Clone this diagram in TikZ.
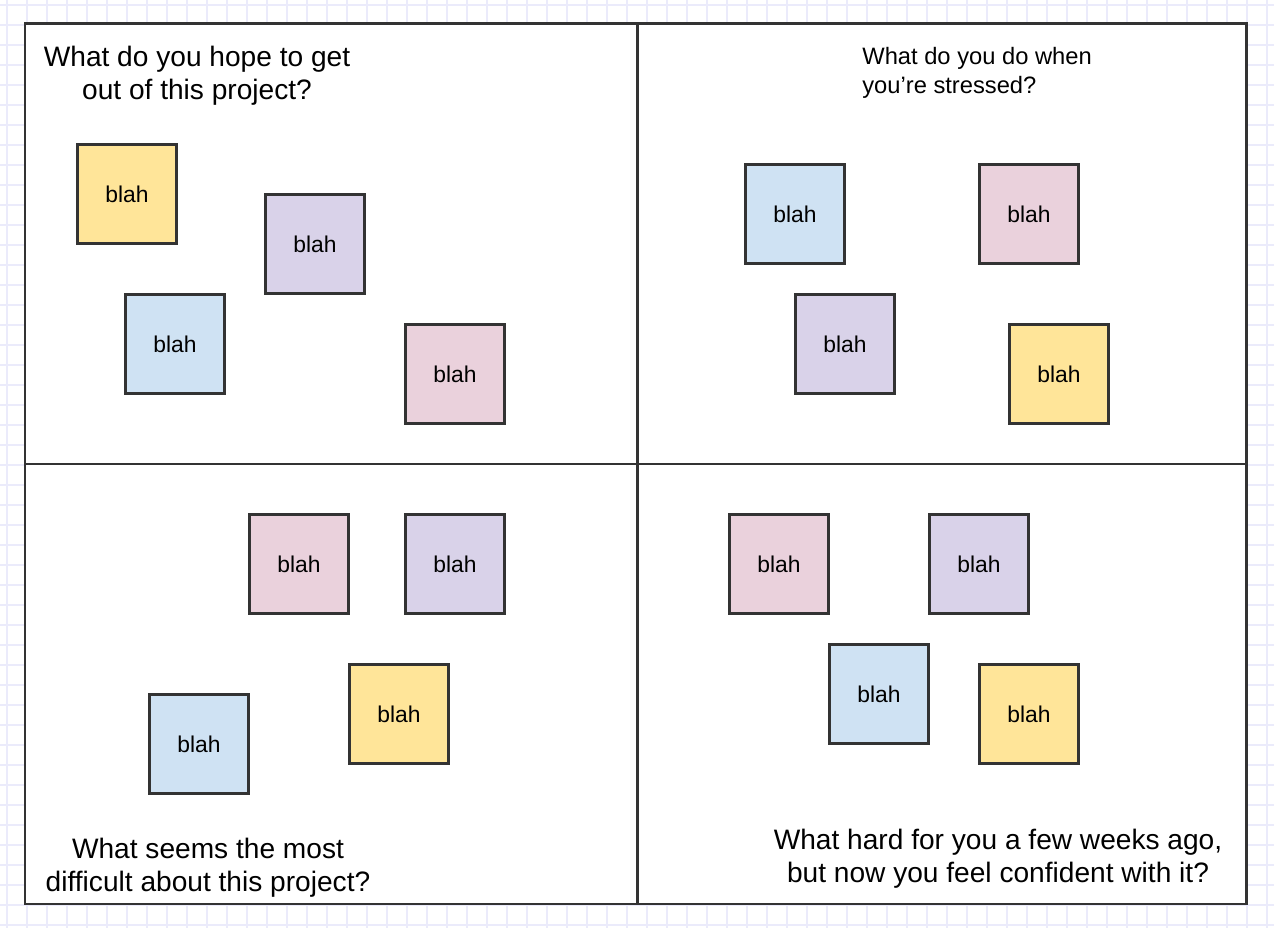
\documentclass[tikz,border=0pt]{standalone}
\usepackage{fontspec}
\setmainfont{Liberation Sans}
\usepackage{xcolor}
\usepackage{tikz}
\usetikzlibrary{positioning}

\definecolor{gridline}{HTML}{EBEBFB}
\definecolor{frameline}{HTML}{333333}
\definecolor{noteyellow}{HTML}{FFE599}
\definecolor{notepurple}{HTML}{D9D2E9}
\definecolor{noteblue}{HTML}{CFE2F3}
\definecolor{notepink}{HTML}{EAD1DC}

\tikzset{
	note/.style={draw=frameline,line width=1.7pt,minimum size=1.98cm,inner sep=0pt,font=\fontsize{13}{15}\selectfont},
	question/.style={align=center,inner sep=0pt,font=\fontsize{16}{18.6}\selectfont},
	smallquestion/.style={align=left,inner sep=0pt,font=\fontsize{13.5}{16.8}\selectfont}
}

\begin{document}
\begin{tikzpicture}[x=0.02cm,y=-0.02cm]
		\useasboundingbox (0,0) rectangle (1274,928);
		% background grid
		\foreach \gx in {7,27,...,1267} \draw[gridline,line width=0.6pt] (\gx,0) -- (\gx,928);
		\foreach \gy in {5,25,...,925} \draw[gridline,line width=0.6pt] (0,\gy) -- (1274,\gy);
		% board
		\fill[white] (25,24) rectangle (1246,904);
		\draw[frameline,line width=1.7pt] (25,24) rectangle (1246,904);
		\coordinate (top) at (637,24);
		\coordinate (bottom) at (637,904);
		\coordinate (left) at (25,464);
		\coordinate (right) at (1246,464);
		\draw[frameline,line width=1.7pt] (top) -- (bottom);
		\draw[frameline,line width=1.7pt] (left) -- (right);
		% questions
		\node[question] (q1) at (197,76) {What do you hope to get\\out of this project?};
		\node[smallquestion,anchor=west] (q2) at (862,73) {What do you do when\\you’re stressed?};
		\node[question] (q3) at (208,868) {What seems the most\\difficult about this project?};
		\node[question] (q4) at (998,859) {What hard for you a few weeks ago,\\but now you feel confident with it?};
		% notes, top left
		\node[note,fill=noteyellow] (n11) at (127,194) {blah};
		\node[note,fill=notepurple] (n12) at (315,244) {blah};
		\node[note,fill=noteblue] (n13) at (175,344) {blah};
		\node[note,fill=notepink] (n14) at (455,374) {blah};
		% notes, top right
		\node[note,fill=noteblue] (n21) at (795,214) {blah};
		\node[note,fill=notepink] (n22) at (1029,214) {blah};
		\node[note,fill=notepurple] (n23) at (845,344) {blah};
		\node[note,fill=noteyellow] (n24) at (1059,374) {blah};
		% notes, bottom left
		\node[note,fill=notepink] (n31) at (299,564) {blah};
		\node[note,fill=notepurple] (n32) at (455,564) {blah};
		\node[note,fill=noteyellow] (n33) at (399,714) {blah};
		\node[note,fill=noteblue] (n34) at (199,744) {blah};
		% notes, bottom right
		\node[note,fill=notepink] (n41) at (779,564) {blah};
		\node[note,fill=notepurple] (n42) at (979,564) {blah};
		\node[note,fill=noteblue] (n43) at (879,694) {blah};
		\node[note,fill=noteyellow] (n44) at (1029,714) {blah};
	\end{tikzpicture}
\end{document}
